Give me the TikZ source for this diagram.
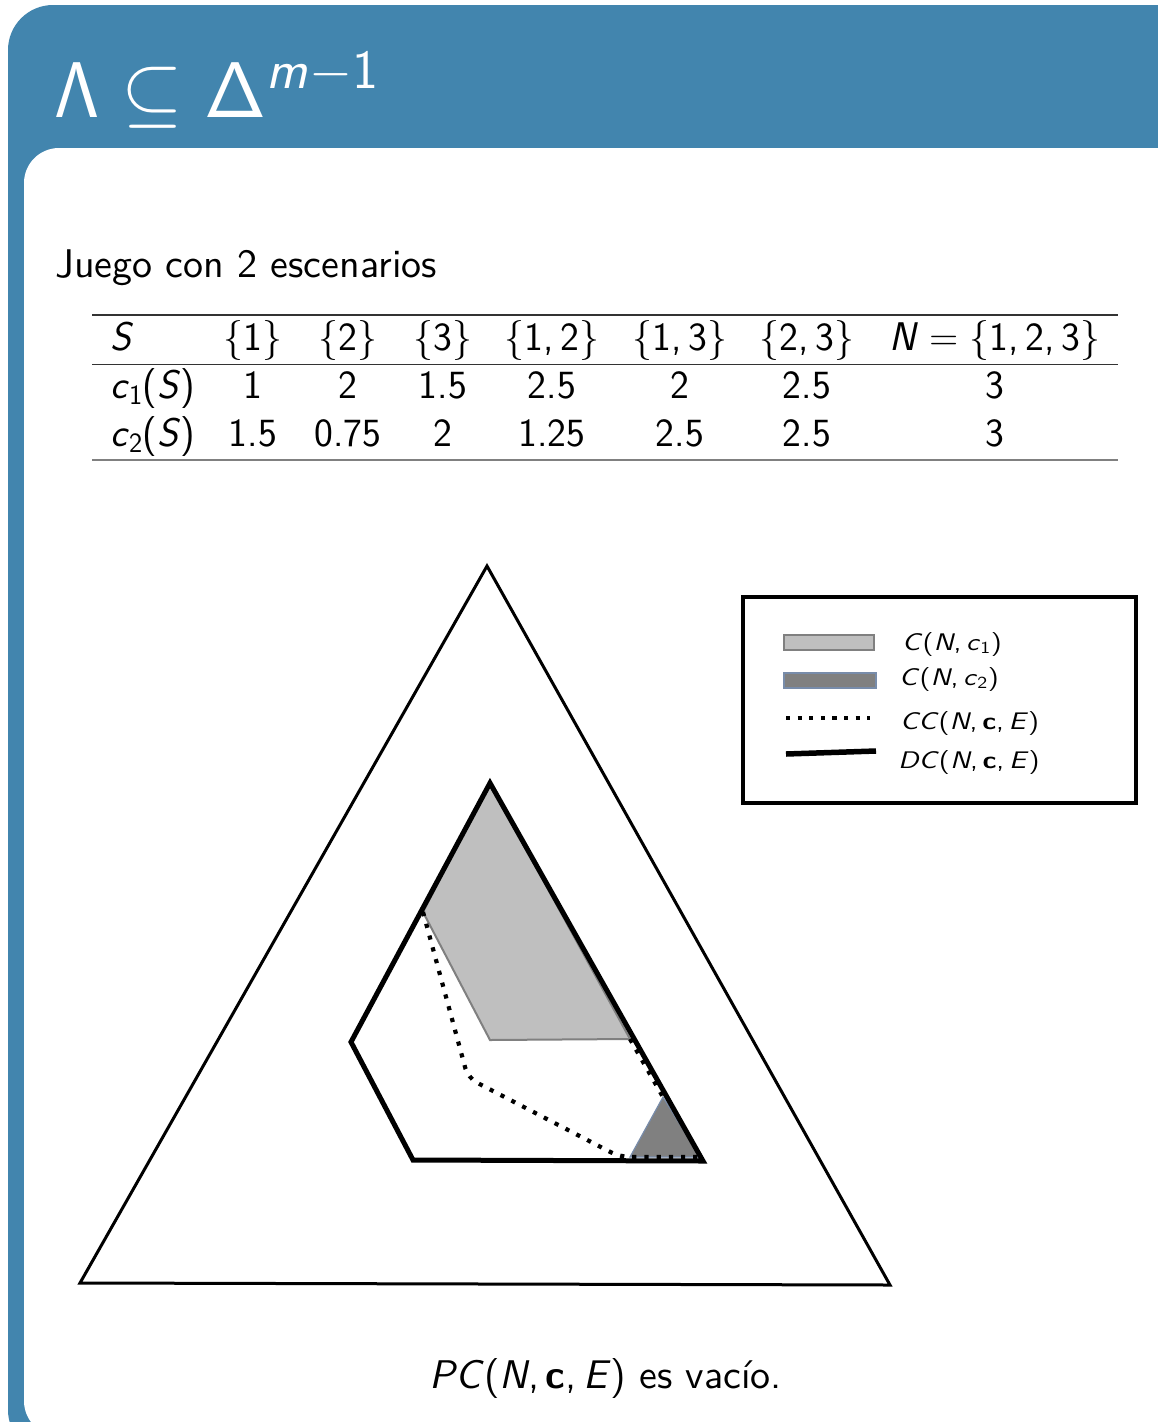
\RequirePackage{fix-cm}
\documentclass[tikz,border=0pt]{standalone}
\usepackage[no-math]{fontspec}
\usepackage{graphicx}
\newfontfamily\lmten{lmsans10-regular.otf}[ItalicFont=lmsans10-oblique.otf, BoldFont=lmsans10-bold.otf]
\DeclareMathAlphabet{\mathsfit}{OT1}{cmss}{m}{sl}
\definecolor{frameblue}{RGB}{66,133,174}
\definecolor{lgray}{RGB}{191,191,191}
\definecolor{dgray}{RGB}{128,128,128}
\definecolor{edgeblue}{RGB}{120,140,170}
\tikzset{
  bigtext/.style={font=\fontsize{40}{48}\selectfont\sffamily, anchor=base, inner sep=0pt},
  tentext/.style={font=\fontsize{40}{48}\selectfont\lmten, anchor=base, inner sep=0pt},
  legtext/.style={font=\fontsize{24}{28}\selectfont\lmten, anchor=base west, inner sep=0pt},
  simplex/.style={line width=3pt, line join=miter},
  dcline/.style={line width=5pt, line join=miter},
  ccline/.style={line width=4.2pt, dash pattern=on 4.2pt off 8pt},
  cone/.style={fill=lgray, draw=dgray, line width=2pt},
  ctwo/.style={fill=dgray, draw=edgeblue, line width=1.2pt},
}
\newcommand{\vv}[1]{\textit{#1}}
\newcommand{\leg}[1]{\scalebox{1.18}[1]{#1}}
\begin{document}
\begin{tikzpicture}[x=1pt,y=-1pt]
\useasboundingbox (0,0) rectangle (1158,1422);
\clip (0,0) rectangle (1158,1422);
\fill[white] (0,0) rectangle (1158,1422);
% frame
\fill[frameblue, rounded corners=45pt] (8,5) rectangle (1210,1455);
\fill[white, rounded corners=35pt] (24,148) rectangle (1195,1436);
% title
\node[font=\fontsize{79}{90}\selectfont, text=white, anchor=base west, inner sep=0pt] (title) at (54,117)
  {$\mathsf{\Lambda}\subseteq\mathsf{\Delta}^{\mathsfit{m}-\mathsf{1}}$};
% subtitle
\node[tentext, anchor=base west] (juego) at (55,277) {Juego con 2 escenarios};
% table rules
\draw[line width=1.5pt, black!80] (92,315) -- (1118,315);
\draw[line width=1pt, black!80] (92,364) -- (1118,364);
\draw[line width=2.5pt, black!50] (92,460) -- (1118,460);
% header
\node[bigtext, anchor=base west] (h0) at (110,350) {\vv{S}};
\node[bigtext] (h1) at (253,350) {\{1\}};
\node[bigtext] (h2) at (348,350) {\{2\}};
\node[bigtext] (h3) at (443,350) {\{3\}};
\node[bigtext] (h4) at (552,350) {\{1,\,2\}};
\node[bigtext] (h5) at (680,350) {\{1,\,3\}};
\node[bigtext] (h6) at (807,350) {\{2,\,3\}};
\node[bigtext] (h7) at (995,350) {\vv{N}\hspace{0.28em}=\hspace{0.28em}\{1,\,2,\,3\}};
% row 1
\node[bigtext, anchor=base west] (a0) at (110,398) {\vv{c}\textsubscript{1}(\vv{S})};
\node[bigtext] (a1) at (253,398) {1};
\node[bigtext] (a2) at (348,398) {2};
\node[bigtext] (a3) at (443,398) {1.5};
\node[bigtext] (a4) at (552,398) {2.5};
\node[bigtext] (a5) at (680,398) {2};
\node[bigtext] (a6) at (807,398) {2.5};
\node[bigtext] (a7) at (995,398) {3};
% row 2
\node[bigtext, anchor=base west] (b0) at (110,446) {\vv{c}\textsubscript{2}(\vv{S})};
\node[bigtext] (b1) at (253,446) {1.5};
\node[bigtext] (b2) at (348,446) {0.75};
\node[bigtext] (b3) at (443,446) {2};
\node[bigtext] (b4) at (552,446) {1.25};
\node[bigtext] (b5) at (680,446) {2.5};
\node[bigtext] (b6) at (807,446) {2.5};
\node[bigtext] (b7) at (995,446) {3};
% simplex
\coordinate (T1) at (487,566);
\coordinate (T2) at (80,1283);
\coordinate (T3) at (890,1285);
\draw[simplex] (T1) -- (T2) -- (T3) -- cycle;
% inner points
\coordinate (D1) at (490,783);
\coordinate (D2) at (351,1042);
\coordinate (D3) at (413,1160);
\coordinate (D4) at (703,1161);
\coordinate (P1) at (423,912);
\coordinate (P2) at (490,1040);
\coordinate (P3) at (630,1039);
\coordinate (Q1) at (663,1097);
\coordinate (Q2) at (630,1157);
\coordinate (Q3) at (700,1157);
\coordinate (R1) at (468,1078);
\coordinate (R2) at (620,1157);
\path[cone] (D1) -- (P1) -- (P2) -- (P3) -- cycle;
\path[ctwo] (Q1) -- (Q2) -- (Q3) -- cycle;
\draw[ccline, rounded corners=10pt] (P1) -- (R1) -- (R2) -- (Q3);
\draw[ccline] (P3) -- (Q1);
\draw[dcline] (D1) -- (D2) -- (D3) -- (D4) -- cycle;
% legend
\draw[line width=3.5pt] (743,597) rectangle (1136,803);
\path[cone] (784,635) rectangle (874,650);
\path[ctwo] (784,673) rectangle (876,688);
\draw[ccline, dash pattern=on 4.2pt off 7.4pt] (786,718) -- (870,718);
\draw[line width=5.5pt] (786,754) -- (876,751);
\node[legtext] (l1) at (902,650) {\leg{\vv{C}(\vv{N},\,\vv{c}\textsubscript{1})}};
\node[legtext] (l2) at (899,685) {\leg{\vv{C}(\vv{N},\,\vv{c}\textsubscript{2})}};
\node[legtext] (l3) at (900,729) {\leg{\vv{CC}(\vv{N},\,\textbf{c},\,\vv{E})}};
\node[legtext] (l4) at (898,768) {\leg{\vv{DC}(\vv{N},\,\textbf{c},\,\vv{E})}};
% bottom text
\node[tentext] (concl) at (606,1388) {\vv{PC}(\vv{N},\,\textbf{c},\,\vv{E}) es vacío.};
\end{tikzpicture}
\end{document}
